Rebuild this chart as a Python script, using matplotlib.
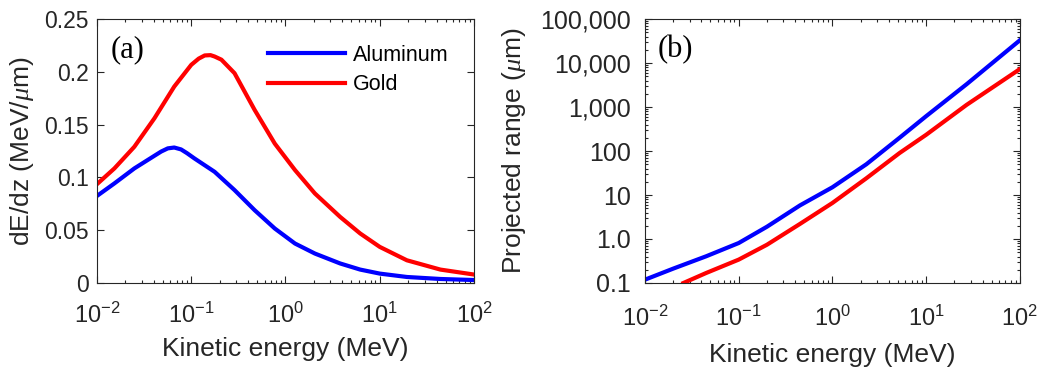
# -*- coding: utf-8 -*-
"""
Stopping power and projected range of electrons in aluminum and gold
"""

# Import Libraries -----------------------------------------------------------
import matplotlib
matplotlib.use('Agg')
import matplotlib.pyplot as plt
from matplotlib.ticker import FixedLocator, LogLocator, NullFormatter

# Data ------------------------------------------------------------------------
# (a) dE/dz (MeV/um) vs kinetic energy (MeV)
al_e_a = [0.0102, 0.0153, 0.0249, 0.0407, 0.048, 0.0564, 0.066, 0.078, 0.09, 0.108,
          0.177, 0.288, 0.47, 0.77, 1.26, 2.05, 3.8, 6.2, 10, 19.4, 44, 100]
al_dedz = [0.083, 0.0943, 0.1085, 0.1205, 0.1245, 0.1275, 0.1283, 0.1265, 0.123, 0.118,
           0.1053, 0.088, 0.069, 0.0516, 0.0374, 0.0279, 0.0185, 0.0127, 0.0089, 0.0057,
           0.0038, 0.0028]
au_e_a = [0.0102, 0.0153, 0.0249, 0.0407, 0.066, 0.1, 0.12, 0.139, 0.16, 0.177, 0.209,
          0.288, 0.47, 0.77, 1.26, 2.05, 3.8, 6.2, 10, 19.4, 44, 100]
au_dedz = [0.0943, 0.1085, 0.129, 0.156, 0.186, 0.2066, 0.2125, 0.2155, 0.2158, 0.2145,
           0.2115, 0.1987, 0.164, 0.132, 0.107, 0.0848, 0.0626, 0.0469, 0.0342, 0.0215,
           0.0127, 0.008]

# (b) projected range (um) vs kinetic energy (MeV)
al_e_b = [0.01, 0.02, 0.045, 0.1, 0.2, 0.45, 1, 2.3, 5.2, 10, 27, 100]
al_range = [0.119, 0.212, 0.405, 0.81, 1.9, 5.8, 15, 50, 200, 620, 3300, 33000]
au_e_b = [0.0257, 0.045, 0.1, 0.2, 0.45, 1, 2.3, 5.2, 10, 27, 100]
au_range = [0.1, 0.169, 0.34, 0.74, 2.2, 6.6, 24, 90, 234, 1120, 7300]

range_ticks = [0.1, 1, 10, 100, 1000, 10000, 100000]
range_labels = ['0.1', '1.0', '10', '100', '1,000', '10,000', '100,000']

# Style -----------------------------------------------------------------------
plt.rcParams['font.family'] = 'Liberation Sans'
plt.rcParams['mathtext.fontset'] = 'custom'
plt.rcParams['mathtext.rm'] = 'Liberation Sans'
plt.rcParams['mathtext.it'] = 'Liberation Serif:italic'
plt.rcParams['mathtext.sf'] = 'Liberation Sans'
plt.rcParams['lines.solid_joinstyle'] = 'round'

dark = '#262626'
lw = 3.0
label_fs = 19

fig = plt.figure(figsize=(10.45, 3.73), dpi=100)
ax1 = fig.add_axes([0.0928, 0.2413, 0.3608, 0.7077])
ax2 = fig.add_axes([0.6172, 0.2413, 0.3588, 0.7077])


def style_axis(ax, tick_fs, ypad, xpad, xlpad):
    ax.set_xscale('log')
    ax.set_xlim(1e-2, 1e2)
    ax.tick_params(which='both', direction='in', top=True, right=True,
                   colors=dark, labelcolor=dark, width=0.8)
    ax.tick_params(which='major', length=5)
    ax.tick_params(which='minor', length=2.5)
    ax.tick_params(axis='x', which='major', pad=xpad, labelsize=17)
    ax.tick_params(axis='y', which='major', pad=ypad, labelsize=tick_fs)
    for s in ax.spines.values():
        s.set_color(dark)
        s.set_linewidth(0.8)
    ax.xaxis.set_major_locator(LogLocator(base=10, numticks=10))
    ax.xaxis.set_minor_locator(LogLocator(base=10, subs=range(2, 10), numticks=20))
    ax.xaxis.set_minor_formatter(NullFormatter())
    ax.set_xlabel('Kinetic energy (MeV)', color=dark, fontsize=label_fs, labelpad=xlpad)


# Panel (a) -------------------------------------------------------------------
ax1.plot(al_e_a, al_dedz, color='#0000ff', lw=lw, label='Aluminum')
ax1.plot(au_e_a, au_dedz, color='#ff0000', lw=lw, label='Gold')
style_axis(ax1, 16.5, 6, 14, 7)
ax1.set_ylim(0, 0.25)
ax1.set_yticks([0, 0.05, 0.1, 0.15, 0.2, 0.25])
ax1.set_yticklabels(['0', '0.05', '0.1', '0.15', '0.2', '0.25'])
ax1.set_ylabel(r'dE/dz (MeV/$\mu$m)', color=dark, fontsize=label_fs, labelpad=6)
ax1.text(0.035, 0.94, '(a)', transform=ax1.transAxes, fontsize=22,
         family='Liberation Serif', va='top', ha='left', color='black')
leg = ax1.legend(loc='upper right', frameon=False, fontsize=15.5,
                 handlelength=3.6, handletextpad=0.35, labelspacing=0.4,
                 bbox_to_anchor=(0.972, 0.96), borderaxespad=0.3)
for t in leg.get_texts():
    t.set_color('black')

# Panel (b) -------------------------------------------------------------------
ax2.plot(al_e_b, al_range, color='#0000ff', lw=lw)
ax2.plot(au_e_b, au_range, color='#ff0000', lw=lw)
style_axis(ax2, 18, 10, 16, 9)
ax2.set_yscale('log')
ax2.set_ylim(0.1, 1e5)
ax2.yaxis.set_major_locator(FixedLocator(range_ticks))
ax2.set_yticklabels(range_labels)
ax2.yaxis.set_minor_locator(LogLocator(base=10, subs=range(2, 10), numticks=20))
ax2.yaxis.set_minor_formatter(NullFormatter())
ax2.set_ylabel(r'Projected range ($\mu$m)', color=dark, fontsize=label_fs, labelpad=9)
ax2.text(0.035, 0.94, '(b)', transform=ax2.transAxes, fontsize=22,
         family='Liberation Serif', va='top', ha='left', color='black')

# Save the figure
plt.savefig('out.png', dpi=100)
